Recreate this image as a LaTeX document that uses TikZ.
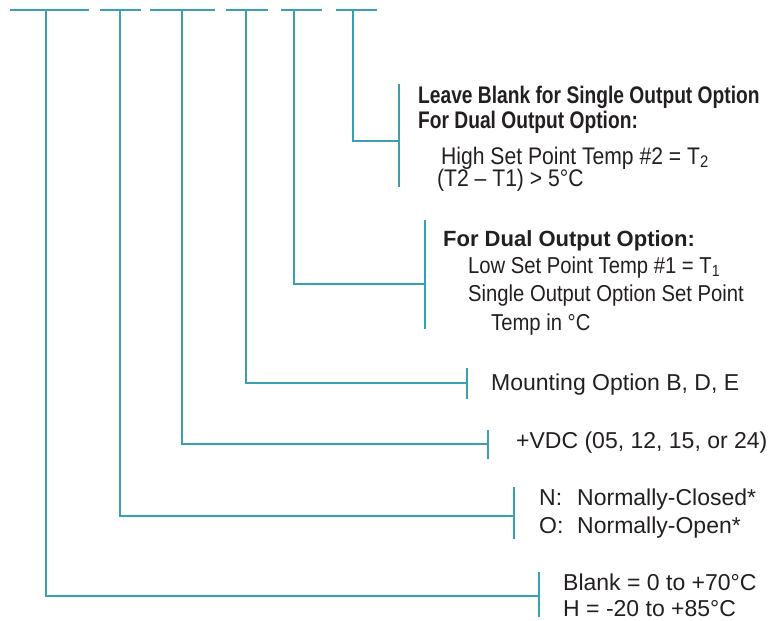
\documentclass[tikz,border=0pt]{standalone}
\usepackage{fontspec}
\setmainfont{Liberation Sans}
\newfontfamily\condfont[FakeStretch=0.88]{Liberation Sans}
\newfontfamily\narrowfont[FakeStretch=0.8]{Liberation Sans}
\usepackage{tikz}
\usetikzlibrary{calc}
\definecolor{leadteal}{HTML}{3A9FB0}
\definecolor{inkgray}{HTML}{231F20}

\begin{document}
\begin{tikzpicture}[x=1pt, y=-1pt,
    lead/.style={draw=leadteal, line width=1.6pt},
    brk/.style={draw=leadteal, line width=1.4pt},
    txt/.style={anchor=base west, inner sep=0pt, text=inkgray, font=\fontsize{23}{27}\selectfont},
    condtxt/.style={txt, font=\fontsize{23}{27}\condfont},
    headA/.style={txt, font=\fontsize{24}{28}\narrowfont\bfseries},
    headB/.style={txt, font=\fontsize{22}{26}\selectfont\bfseries}
  ]
    \useasboundingbox (0,0) rectangle (779,621);

    % Blanks of the part number
    \draw[lead] (10,10) -- (89,10);
    \draw[lead] (100,10) -- (141,10);
    \draw[lead] (150,10) -- (215,10);
    \draw[lead] (226,10) -- (268,10);
    \draw[lead] (281,10) -- (322,10);
    \draw[lead] (336,10) -- (377,10);
    \coordinate (b1) at (46,10);
    \coordinate (b2) at (120,10);
    \coordinate (b3) at (182,10);
    \coordinate (b4) at (246,10);
    \coordinate (b5) at (294,10);
    \coordinate (b6) at (353,10);

    % Bracket points
    \coordinate (k1) at (539,596);
    \coordinate (k2) at (514,516);
    \coordinate (k3) at (488,444);
    \coordinate (k4) at (467,383);
    \coordinate (k5) at (425,284);
    \coordinate (k6) at (399,141);

    % Leads
    \draw[lead] (b1) |- (k1);
    \draw[lead] (b2) |- (k2);
    \draw[lead] (b3) |- (k3);
    \draw[lead] (b4) |- (k4);
    \draw[lead] (b5) |- (k5);
    \draw[lead] (b6) |- (k6);

    % Brackets
    \draw[brk] ($(k1)+(0,-24)$) -- ($(k1)+(0,21)$);
    \draw[brk] ($(k2)+(0,-29)$) -- ($(k2)+(0,23)$);
    \draw[brk] ($(k3)+(0,-14)$) -- ($(k3)+(0,15)$);
    \draw[brk] ($(k4)+(0,-15)$) -- ($(k4)+(0,16)$);
    \draw[brk] ($(k5)+(0,-64)$) -- ($(k5)+(0,45)$);
    \draw[brk] ($(k6)+(0,-57)$) -- ($(k6)+(0,46)$);

    % Set points
    \node[headA] (lvblank) at (418,103) {Leave Blank for Single Output Option};
    \node[headA] (dualhi) at (418,128) {For Dual Output Option:};
    \node[condtxt, font=\fontsize{24}{28}\condfont] (highset) at (441,164) {High Set Point Temp \#2 = T\textsubscript{2}};
    \node[condtxt, font=\fontsize{24}{28}\condfont] (tdiff) at (437,186) {(T2 – T1) > 5°C};

    \node[headB] (duallo) at (443,246) {For Dual Output Option:};
    \node[condtxt] (lowset) at (468,273) {Low Set Point Temp \#1 = T\textsubscript{1}};
    \node[condtxt] (single) at (468,301) {Single Output Option Set Point};
    \node[condtxt] (tempc) at (491,330) {Temp in °C};

    % Mounting and supply
    \node[txt] (mount) at (491,390) {Mounting Option B, D, E};
    \node[txt] (vdc) at (516,448) {+VDC (05, 12, 15, or 24)};

    % Contacts
    \node[txt] (nclosed) at (539,505) {\makebox[38pt][l]{N:}Normally-Closed*};
    \node[txt] (nopen) at (539,533) {\makebox[38pt][l]{O:}Normally-Open*};

    % Temperature range
    \node[txt] (rblank) at (563,590) {Blank = 0 to +70°C};
    \node[txt] (rhigh) at (563,616) {H = -20 to +85°C};

  \end{tikzpicture}
\end{document}
